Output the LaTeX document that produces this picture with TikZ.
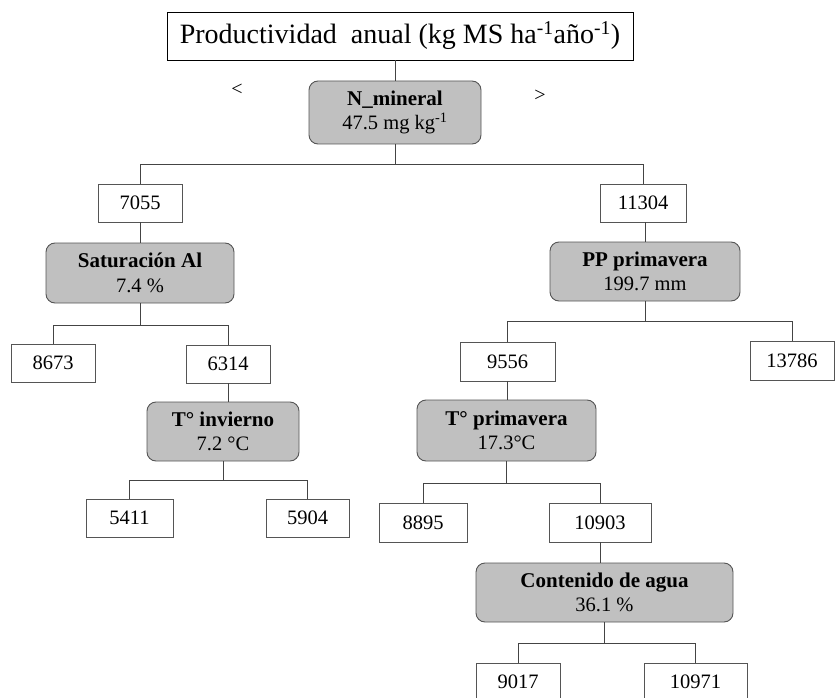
\documentclass[tikz,border=0pt]{standalone}
\usepackage{fontspec}
\setmainfont{Liberation Serif}
\definecolor{splitfill}{HTML}{C0C0C0}
\definecolor{edgecol}{HTML}{555555}
\definecolor{linecol}{HTML}{444444}
\begin{document}
\begin{tikzpicture}[x=1pt,y=-1pt,
  leaf/.style={draw=edgecol,line width=0.9pt,fill=white,inner sep=0pt,
    minimum height=38pt,font=\fontsize{20.5}{25}\selectfont},
  split/.style={draw=edgecol,line width=0.9pt,fill=splitfill,rounded corners=9pt,
    inner sep=0pt,align=center,font=\fontsize{20.5}{24.5}\selectfont},
  conn/.style={draw=linecol,line width=0.8pt},
  sign/.style={font=\fontsize{20}{24}\selectfont,inner sep=0pt}]
\useasboundingbox (0,0) rectangle (835,698);
\clip (0,0) rectangle (835,698);
\node[draw=black,line width=0.9pt,minimum width=466pt,minimum height=48pt,inner sep=0pt,
  font=\fontsize{28}{32}\selectfont] (title) at (400,36)
  {Productividad\ \ anual (kg MS ha\textsuperscript{-1}año\textsuperscript{-1})};
\node[split,minimum width=172pt,minimum height=63pt] (nmin) at (395,112.5)
  {{\fontsize{21}{24.5}\selectfont\textbf{N\_mineral}}\\47.5 mg kg\textsuperscript{-1}};
\node[sign] (lt) at (237,90) {<};
\node[sign] (gt) at (540,96) {>};
\node[leaf,minimum width=84pt] (n7055) at (140,203) {7055};
\node[leaf,minimum width=86pt] (n11304) at (643,203) {11304};
\node[split,minimum width=188pt,minimum height=60pt] (sat) at (140,273)
  {{\fontsize{21}{24.5}\selectfont\textbf{Saturación Al}}\\7.4 \%};
\node[split,minimum width=190pt,minimum height=59pt] (pp) at (645,271.5)
  {{\fontsize{21}{24.5}\selectfont\textbf{PP primavera}}\\199.7 mm};
\node[leaf,minimum width=84pt] (n8673) at (53,363) {8673};
\node[leaf,minimum width=84pt] (n6314) at (228,364) {6314};
\node[leaf,minimum width=95pt,minimum height=39pt] (n9556) at (507.5,361.5) {9556};
\node[leaf,minimum width=84pt,minimum height=39pt] (n13786) at (792,360.5) {13786};
\node[split,minimum width=152pt,minimum height=59pt] (tinv) at (223,431.5)
  {{\fontsize{21}{24.5}\selectfont\textbf{T° invierno}}\\7.2 °C};
\node[split,minimum width=179pt,minimum height=61pt] (tprim) at (506.5,430.5)
  {{\fontsize{21}{24.5}\selectfont\textbf{T° primavera}}\\17.3°C};
\node[leaf,minimum width=87pt] (n5411) at (129.5,518) {5411};
\node[leaf,minimum width=83pt] (n5904) at (307.5,518) {5904};
\node[leaf,minimum width=88pt,minimum height=39pt] (n8895) at (423,522.5) {8895};
\node[leaf,minimum width=102pt,minimum height=39pt] (n10903) at (600,522.5) {10903};
\node[split,minimum width=257pt,minimum height=59pt] (agua) at (604.5,592.5)
  {{\fontsize{21}{24.5}\selectfont\textbf{Contenido de agua}}\\36.1 \%};
\node[leaf,minimum width=84pt] (n9017) at (518,682) {9017};
\node[leaf,minimum width=103pt] (n10971) at (695.5,682) {10971};
% connectors
\draw[conn] (nmin.north) -- (nmin.north |- title.south);
\draw[conn] (nmin.south) -- ++(0,20) -| (n7055.north);
\draw[conn] (nmin.south) -- ++(0,20) -| (n11304.north);
\draw[conn] (n7055.south) -- (sat.north);
\draw[conn] (pp.north) -- (pp.north |- n11304.south);
\draw[conn] (sat.south) -- ++(0,22) -| (n8673.north);
\draw[conn] (sat.south) -- ++(0,22) -| (n6314.north);
\draw[conn] (pp.south) -- ++(0,20) -| (n9556.north);
\draw[conn] (pp.south) -- ++(0,20) -| (n13786.north);
\draw[conn] (n6314.south) -- (n6314.south |- tinv.north);
\draw[conn] (n9556.south) -- (n9556.south |- tprim.north);
\draw[conn] (tinv.south) -- ++(0,19) -| (n5411.north);
\draw[conn] (tinv.south) -- ++(0,19) -| (n5904.north);
\draw[conn] (tprim.south) -- ++(0,22) -| (n8895.north);
\draw[conn] (tprim.south) -- ++(0,22) -| (n10903.north);
\draw[conn] (n10903.south) -- (n10903.south |- agua.north);
\draw[conn] (agua.south) -- ++(0,21) -| (n9017.north);
\draw[conn] (agua.south) -- ++(0,21) -| (n10971.north);
\end{tikzpicture}
\end{document}
